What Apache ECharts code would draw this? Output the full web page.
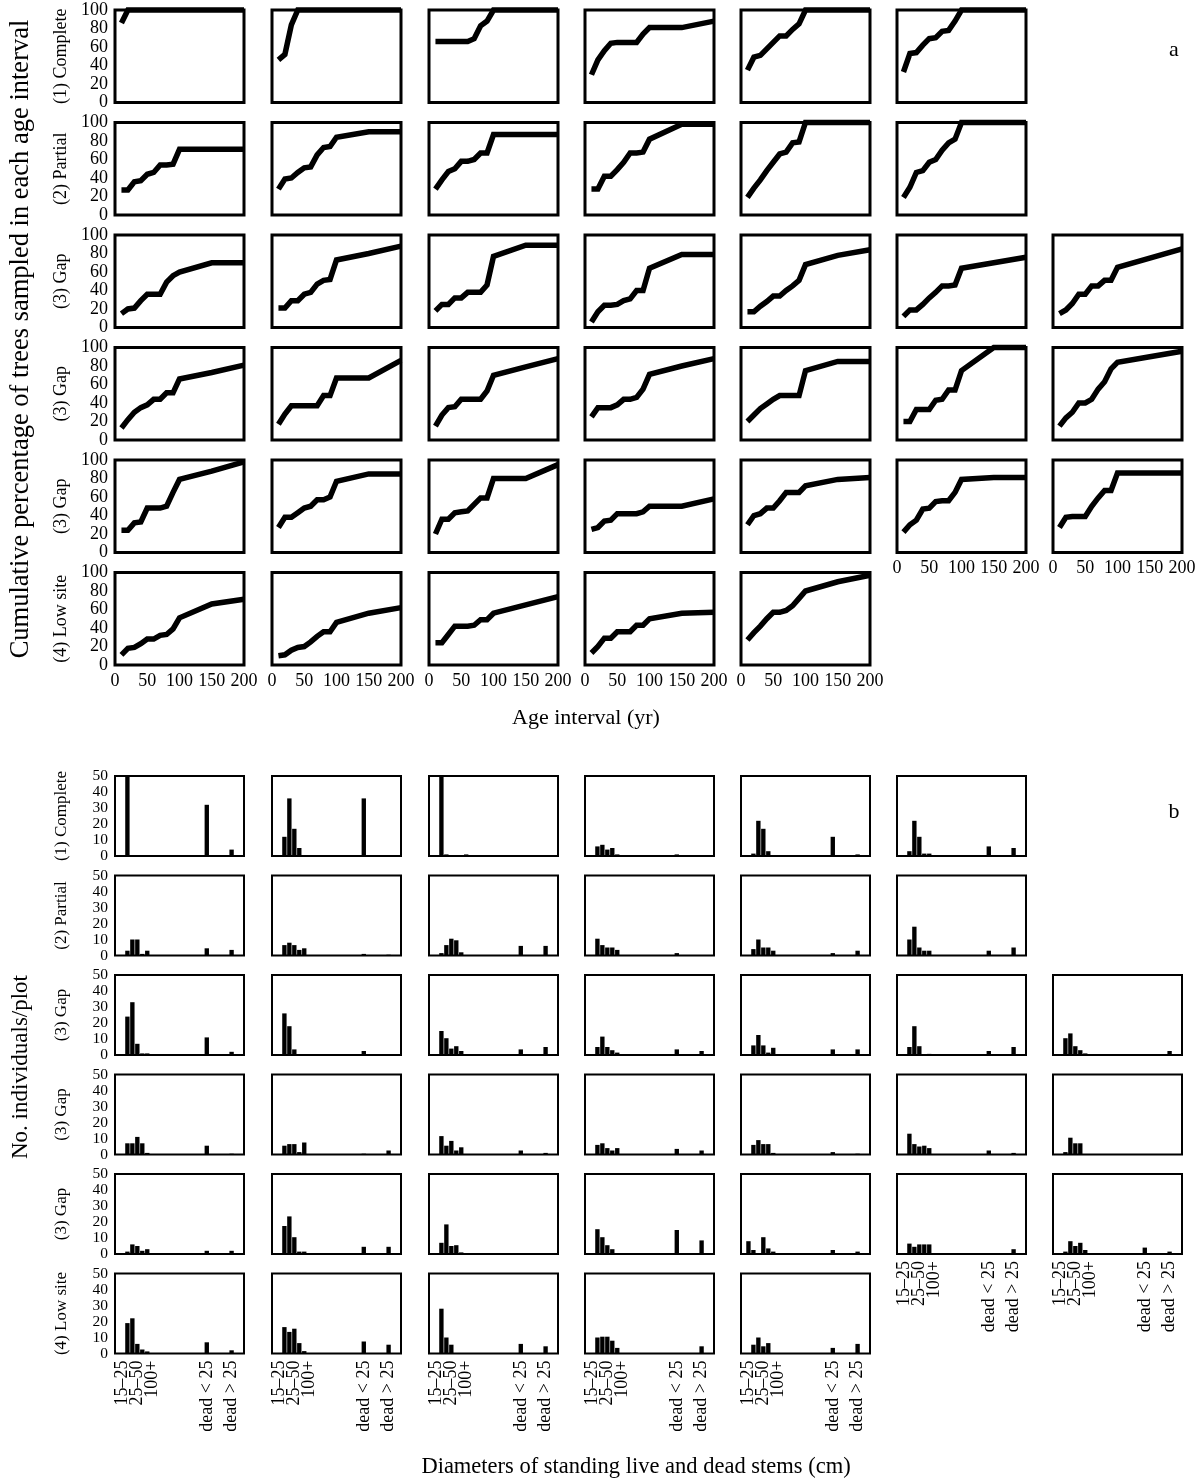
<!DOCTYPE html>
<html>
<head>
<meta charset="utf-8">
<title>Cumulative age and stem size distributions</title>
<script src="https://cdn.jsdelivr.net/npm/echarts@6/dist/echarts.min.js"></script>
<style>
  html, body { margin: 0; padding: 0; background: #fff; }
  #chart { width: 1203px; height: 1483px; }
</style>
</head>
<body>
<div id="chart"></div>
<script>
// ---- panel a: cumulative % of trees per age interval (yr) ----
const ages = [10, 20, 30, 40, 50, 60, 70, 80, 90, 100, 150, 200];
const rowNames = ['(1) Complete', '(2) Partial', '(3) Gap', '(3) Gap', '(3) Gap', '(4) Low site'];

const cumComplete = [
  [86, 100, 100, 100, 100, 100, 100, 100, 100, 100, 100, 100],
  [46, 52, 84, 100, 100, 100, 100, 100, 100, 100, 100, 100],
  [66, 66, 66, 66, 66, 66, 69, 83, 88, 100, 100, 100],
  [30, 46, 56, 64, 65, 65, 65, 65, 74, 81, 81, 88],
  [35, 49, 51, 58, 65, 72, 72, 79, 85, 100, 100, 100],
  [33, 53, 54, 62, 69, 70, 77, 78, 88, 100, 100, 100]
];
const cumPartial = [
  [27, 27, 36, 37, 44, 46, 54, 54, 55, 71, 71, 71],
  [28, 39, 40, 46, 51, 52, 65, 73, 74, 84, 90, 90],
  [28, 38, 47, 50, 58, 58, 60, 67, 67, 87, 87, 87],
  [28, 28, 42, 42, 49, 57, 67, 67, 68, 82, 98, 98],
  [19, 29, 38, 48, 57, 66, 68, 78, 79, 100, 100, 100],
  [19, 30, 46, 48, 57, 60, 70, 78, 82, 100, 100, 100]
];
const cumGapA = [
  [15, 20, 21, 29, 36, 36, 36, 49, 56, 60, 70, 70],
  [21, 21, 29, 29, 36, 38, 47, 51, 52, 73, 80, 88],
  [18, 25, 25, 32, 32, 38, 38, 38, 46, 77, 89, 89],
  [6, 17, 24, 24, 25, 29, 31, 40, 40, 64, 79, 79],
  [17, 17, 23, 28, 34, 34, 40, 45, 51, 68, 78, 84],
  [12, 19, 19, 25, 32, 38, 45, 45, 46, 64, 70, 76],
  [15, 19, 26, 36, 36, 45, 45, 51, 51, 65, 75, 85]
];
const cumGapB = [
  [13, 22, 30, 35, 38, 44, 44, 51, 51, 66, 73, 81],
  [17, 28, 37, 37, 37, 37, 37, 48, 48, 67, 67, 86],
  [15, 27, 35, 36, 44, 44, 44, 44, 53, 70, 79, 88],
  [25, 35, 35, 35, 38, 44, 44, 46, 55, 71, 80, 88],
  [20, 27, 34, 39, 44, 48, 48, 48, 48, 75, 85, 85],
  [20, 20, 33, 33, 33, 43, 44, 54, 54, 75, 100, 100],
  [15, 24, 30, 40, 40, 44, 55, 63, 77, 84, 90, 96]
];
const cumGapC = [
  [24, 24, 32, 33, 48, 48, 48, 50, 65, 79, 88, 98],
  [27, 38, 38, 43, 48, 50, 57, 57, 60, 77, 85, 85],
  [20, 36, 36, 43, 44, 45, 52, 59, 59, 80, 80, 95],
  [25, 27, 34, 35, 42, 42, 42, 42, 44, 50, 50, 58],
  [30, 40, 42, 48, 48, 56, 65, 65, 65, 72, 79, 81],
  [22, 30, 35, 47, 48, 55, 56, 56, 65, 79, 81, 81],
  [27, 38, 39, 39, 39, 50, 59, 67, 67, 86, 86, 86]
];
const cumLowSite = [
  [11, 18, 19, 23, 28, 28, 32, 33, 39, 51, 66, 71],
  [10, 11, 16, 19, 20, 25, 31, 36, 36, 46, 56, 62],
  [24, 24, 33, 42, 42, 42, 43, 49, 49, 56, 65, 74],
  [13, 20, 29, 29, 36, 36, 36, 43, 43, 50, 56, 57],
  [27, 35, 42, 50, 57, 57, 59, 64, 72, 80, 90, 97]
];

// ---- panel b: stems per plot by diameter class ----
// slot layout of the diameter axis, with the tick labels that are printed
const sizeTickLabels = ['', '15–25', '', '', '25–50', '', '', '100+', '', '', '', '', '', '',
  '', '', '', '', 'dead < 25', '', '', '', '', 'dead > 25', '', ''];
const liveSlots = [1, 2, 3, 4, 5, 6, 7];
const deadSlots = [18, 23];

// 7 live classes then dead < 25, dead > 25
const stemsComplete = [
  [0, 50, 0, 0, 0, 0, 0, 32, 4],
  [0, 12, 36, 17, 5, 0.5, 0, 36, 0],
  [0, 50, 1, 0, 0, 0, 1, 0.3, 0.3],
  [0, 6, 7, 4, 5, 1, 0, 1, 0],
  [0, 1.5, 22, 17, 3, 0, 0, 12, 1],
  [0, 3, 22, 12, 1.5, 1.5, 0, 6, 5]
];
const stemsPartial = [
  [0, 3, 10, 10, 1, 3, 0, 4.5, 3.5],
  [0, 6.5, 8, 6.5, 3.5, 4.5, 0, 1, 0.5],
  [0, 1.5, 6.5, 10.5, 9.5, 2, 0, 6, 6],
  [0, 10.5, 6.5, 5, 5, 3.5, 0, 1.5, 0],
  [0, 4, 10, 5, 5, 3, 0, 1.5, 3],
  [0, 10, 18, 5, 3, 3, 0, 3, 5]
];
const stemsGapA = [
  [0, 24, 33, 7, 1, 1, 0, 11, 2],
  [0, 26, 18, 3.5, 0.5, 0.5, 0, 2.5, 0.5],
  [0, 15, 10.5, 4, 5.5, 2.5, 0, 3.5, 5],
  [0, 5, 11.5, 5, 3, 1.5, 0, 3.5, 2.5],
  [0, 6, 12.5, 6, 1.5, 4.5, 0, 3.5, 3.5],
  [0, 5, 18, 5.5, 0, 0.7, 0, 2.5, 5],
  [0, 10.5, 13.5, 5.5, 3, 1, 0, 0.5, 2.5]
];
const stemsGapB = [
  [0, 7, 7, 11, 7, 1, 0, 5.5, 0.5],
  [0, 5.5, 6.5, 6.5, 1.5, 7.5, 0, 0.5, 2.5],
  [0, 11.5, 5.5, 8.5, 2.5, 4.5, 0, 2.5, 1],
  [0, 6, 7, 4, 2.5, 4, 0, 3.5, 2.5],
  [0, 6, 9, 6.5, 6.5, 1, 0, 1.5, 0.5],
  [0, 13, 6.5, 5, 5.5, 4, 0, 2.5, 1],
  [0, 1.5, 10.5, 7, 7, 0, 0, 0, 0]
];
const stemsGapC = [
  [0, 1.5, 6, 5, 2, 3, 0, 2, 2],
  [0, 17.5, 23.5, 10.5, 1.5, 1.5, 0, 4.5, 4.5],
  [0, 7, 18.5, 5, 5.5, 1, 0, 0, 0],
  [0, 15.5, 10.5, 5.5, 3, 0, 0, 15, 8.5],
  [8, 2.5, 0, 10.5, 3.5, 1.5, 0, 2.5, 1.5],
  [0, 6.5, 4.5, 6, 6, 6, 0, 0, 3],
  [0, 1.5, 8, 5, 7, 2.5, 0, 4, 1.5]
];
const stemsLowSite = [
  [0, 19, 22, 6, 2.5, 1.3, 0, 7, 2],
  [0, 16.5, 13.5, 15.5, 6.5, 1.5, 0, 7.5, 5.5],
  [0, 28, 10, 5.5, 0, 0, 0, 6, 4.5],
  [0, 10, 10.5, 10.5, 8, 3.5, 0, 0, 4.5],
  [0, 5.5, 10, 4.5, 6.5, 0, 0, 3.5, 6]
];

const cumRows = [cumComplete, cumPartial, cumGapA, cumGapB, cumGapC, cumLowSite];
const stemRows = [stemsComplete, stemsPartial, stemsGapA, stemsGapB, stemsGapC, stemsLowSite];

// layout
const colLeft = [115, 272, 429, 585, 741, 897, 1053];
const panelW = 129;
const ageRowTop = [10, 122.5, 235, 347.5, 460, 572.5];
const ageH = 92.5;
const stemRowTop = [776, 875.5, 975, 1074.5, 1174, 1273.5];
const stemH = 80;

const serif = '"Liberation Serif", "Times New Roman", serif';
const black = '#000';

// lowest row that has a panel in column c
function lastRow(rows, c) {
  let last = -1;
  rows.forEach((row, r) => { if (row.length > c) last = r; });
  return last;
}

const grid = [], xAxis = [], yAxis = [], series = [];

function labelStyle(show, size) {
  return {
    show: show, color: black, fontFamily: serif, fontSize: size, margin: 7,
    hideOverlap: false
  };
}

cumRows.forEach((row, r) => {
  row.forEach((vals, c) => {
    const i = grid.length;
    grid.push({
      left: colLeft[c], top: ageRowTop[r], width: panelW, height: ageH,
      show: true, borderColor: black, borderWidth: 3, outerBoundsMode: 'none'
    });
    xAxis.push({
      gridIndex: i, type: 'value', min: 0, max: 200, interval: 50,
      axisLine: { show: false }, axisTick: { show: false }, splitLine: { show: false },
      axisLabel: labelStyle(r === lastRow(cumRows, c), 18)
    });
    yAxis.push({
      gridIndex: i, type: 'value', min: 0, max: 100, interval: 20,
      axisLine: { show: false }, axisTick: { show: false }, splitLine: { show: false },
      axisLabel: labelStyle(c === 0, 18),
      name: c === 0 ? rowNames[r] : '',
      nameLocation: 'middle', nameGap: 45,
      nameTextStyle: { color: black, fontFamily: serif, fontSize: 18 }
    });
    series.push({
      type: 'line', xAxisIndex: i, yAxisIndex: i,
      data: ages.map((a, k) => [a, vals[k]]),
      symbol: 'none', clip: false,
      lineStyle: { color: black, width: 5.5, join: 'miter' },
      itemStyle: { color: black }
    });
  });
});

const sizeSlots = sizeTickLabels.map((_, k) => 's' + k);

stemRows.forEach((row, r) => {
  row.forEach((vals, c) => {
    const i = grid.length;
    grid.push({
      left: colLeft[c], top: stemRowTop[r], width: panelW, height: stemH,
      show: true, borderColor: black, borderWidth: 2, outerBoundsMode: 'none'
    });
    xAxis.push({
      gridIndex: i, type: 'category', data: sizeSlots,
      axisLine: { show: false }, axisTick: { show: false }, splitLine: { show: false },
      axisLabel: Object.assign(labelStyle(r === lastRow(stemRows, c), 18), {
        interval: 0, rotate: 90,
        formatter: (v, k) => sizeTickLabels[k]
      })
    });
    yAxis.push({
      gridIndex: i, type: 'value', min: 0, max: 50, interval: 10,
      axisLine: { show: false }, axisTick: { show: false }, splitLine: { show: false },
      axisLabel: labelStyle(c === 0, 15.5),
      name: c === 0 ? rowNames[r] : '',
      nameLocation: 'middle', nameGap: 45,
      nameTextStyle: { color: black, fontFamily: serif, fontSize: 17 }
    });
    const data = sizeSlots.map(() => 0);
    liveSlots.forEach((s, k) => { data[s] = vals[k]; });
    deadSlots.forEach((s, k) => { data[s] = vals[liveSlots.length + k]; });
    series.push({
      type: 'bar', xAxisIndex: i, yAxisIndex: i, data: data,
      barCategoryGap: '12%',
      itemStyle: { color: black }
    });
  });
});

function textEl(text, x, y, size, rotate) {
  return {
    type: 'text', x: x, y: y, rotation: rotate ? Math.PI / 2 : 0,
    style: {
      text: text, fill: black, font: size + 'px ' + serif,
      align: 'center', verticalAlign: 'middle',
      textAlign: 'center', textVerticalAlign: 'middle'
    }
  };
}

const option = {
  animation: false,
  backgroundColor: '#fff',
  grid: grid,
  xAxis: xAxis,
  yAxis: yAxis,
  series: series,
  graphic: [
    textEl('Cumulative percentage of trees sampled in each age interval', 21, 339, 26.5, true),
    textEl('Age interval (yr)', 586, 718, 22, false),
    textEl('No. individuals/plot', 21, 1067, 23, true),
    textEl('Diameters of standing live and dead stems (cm)', 636, 1467, 22.5, false),
    textEl('a', 1174, 50, 22, false),
    textEl('b', 1174, 812, 22, false)
  ]
};

const myChart = echarts.init(document.getElementById('chart'), null, { renderer: 'canvas' });
myChart.setOption(option);
</script>
</body>
</html>
